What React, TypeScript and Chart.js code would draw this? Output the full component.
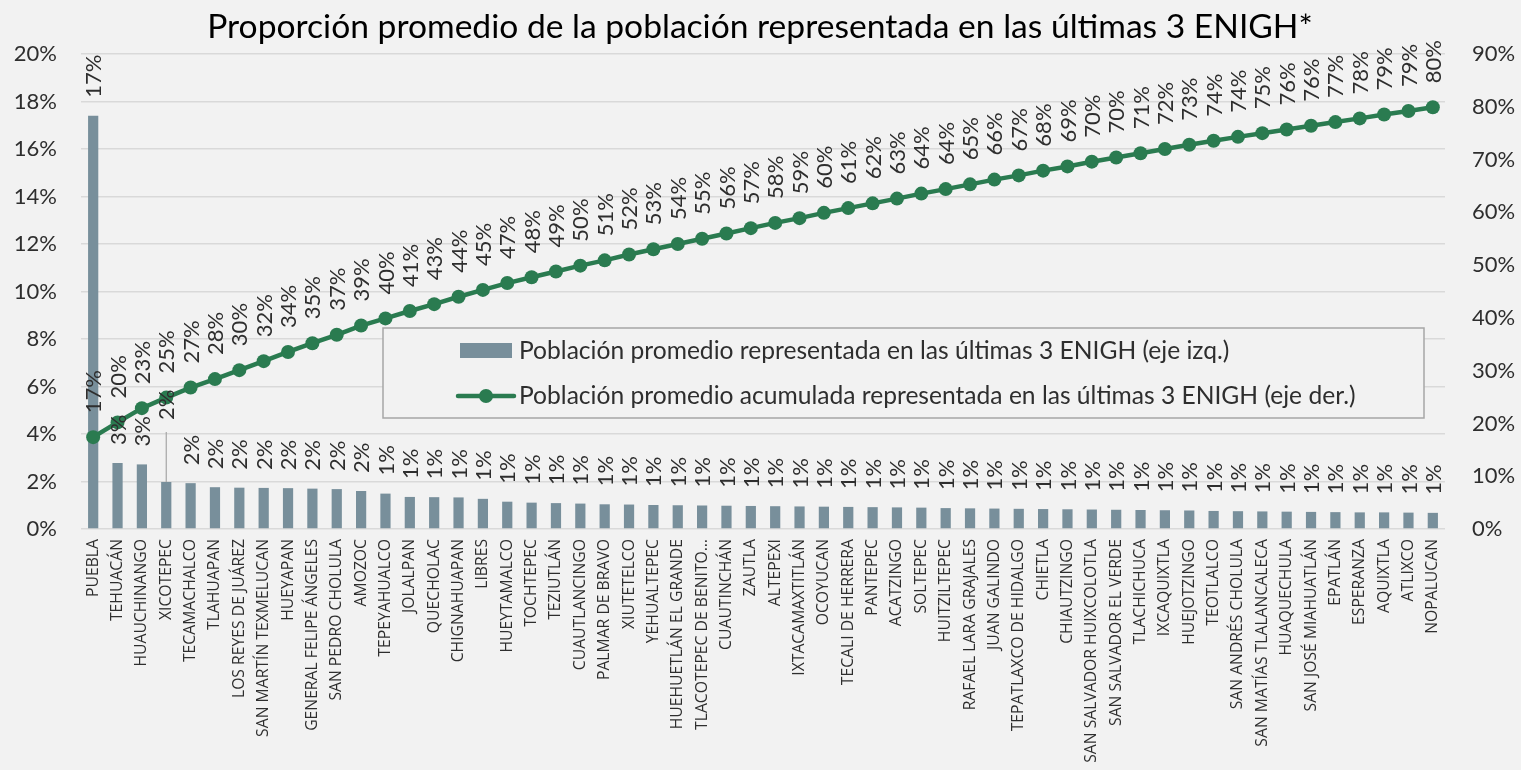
import React, { useEffect, useRef } from "react";
import { Chart, registerables } from "chart.js";

Chart.register(...registerables);

// ---------- DATA ----------
const categories: string[] = [
  "PUEBLA", "TEHUACÁN", "HUAUCHINANGO", "XICOTEPEC", "TECAMACHALCO", "TLAHUAPAN",
  "LOS REYES DE JUÁREZ", "SAN MARTÍN TEXMELUCAN", "HUEYAPAN", "GENERAL FELIPE ÁNGELES",
  "SAN PEDRO CHOLULA", "AMOZOC", "TEPEYAHUALCO", "JOLALPAN", "QUECHOLAC", "CHIGNAHUAPAN",
  "LIBRES", "HUEYTAMALCO", "TOCHTEPEC", "TEZIUTLÁN", "CUAUTLANCINGO", "PALMAR DE BRAVO",
  "XIUTETELCO", "YEHUALTEPEC", "HUEHUETLÁN EL GRANDE", "TLACOTEPEC DE BENITO…", "CUAUTINCHÁN",
  "ZAUTLA", "ALTEPEXI", "IXTACAMAXTITLÁN", "OCOYUCAN", "TECALI DE HERRERA", "PANTEPEC",
  "ACATZINGO", "SOLTEPEC", "HUITZILTEPEC", "RAFAEL LARA GRAJALES", "JUAN GALINDO",
  "TEPATLAXCO DE HIDALGO", "CHIETLA", "CHIAUTZINGO", "SAN SALVADOR HUIXCOLOTLA",
  "SAN SALVADOR EL VERDE", "TLACHICHUCA", "IXCAQUIXTLA", "HUEJOTZINGO", "TEOTLALCO",
  "SAN ANDRÉS CHOLULA", "SAN MATÍAS TLALANCALECA", "HUAQUECHULA", "SAN JOSÉ MIAHUATLÁN",
  "EPATLÁN", "ESPERANZA", "AQUIXTLA", "ATLIXCO", "NOPALUCAN",
];

// Proportion of population per municipality (%), left axis
const shareValues: number[] = [
  17.4, 2.78, 2.72, 1.98, 1.93, 1.76, 1.74, 1.73, 1.72, 1.70,
  1.68, 1.60, 1.49, 1.35, 1.34, 1.33, 1.27, 1.15, 1.11, 1.09,
  1.07, 1.04, 1.03, 1.01, 1.00, 0.99, 0.98, 0.97, 0.96, 0.95,
  0.94, 0.93, 0.92, 0.91, 0.90, 0.88, 0.87, 0.86, 0.85, 0.84,
  0.83, 0.82, 0.81, 0.80, 0.79, 0.78, 0.76, 0.75, 0.74, 0.73,
  0.72, 0.71, 0.70, 0.70, 0.69, 0.68,
];

// Cumulative proportion (%), right axis
const cumulativeValues: number[] = [
  17.4, 20.2, 22.9, 24.9, 26.8, 28.4, 30.1, 31.8, 33.55, 35.2,
  36.8, 38.55, 39.9, 41.3, 42.6, 44.0, 45.3, 46.6, 47.7, 48.8,
  49.9, 50.9, 52.0, 53.0, 54.0, 55.0, 56.0, 57.0, 58.0, 58.9,
  59.9, 60.8, 61.7, 62.6, 63.55, 64.4, 65.3, 66.2, 67.0, 67.9,
  68.7, 69.6, 70.4, 71.2, 72.0, 72.8, 73.55, 74.3, 75.0, 75.7,
  76.4, 77.1, 77.8, 78.55, 79.2, 79.9,
];

const leftAxisMax = 20;
const leftAxisStep = 2;
const rightAxisMax = 90;
const rightAxisStep = 10;

const TITLE = "Proporción promedio de la población representada en las últimas 3 ENIGH*";
const BAR_SERIES = "Población promedio representada en las últimas 3 ENIGH (eje izq.)";
const LINE_SERIES = "Población promedio acumulada representada en las últimas 3 ENIGH (eje der.)";

// ---------- STYLE ----------
const BG = "#F2F2F2";
const BAR_COLOR = "#788F9B";
const GREEN = "#2A7B50";
const TEXT = "#2E2E2E";
const GRID = "#D9D9D9";
const FONT = "Lato, Calibri, Carlito, sans-serif";
const XFONT = "'Open Sans', sans-serif";

function fitFontSize(text: string, family: string, target: number, weight = "normal"): number {
  const c = document.createElement("canvas").getContext("2d")!;
  c.font = `${weight} 20px ${family}`;
  const w = c.measureText(text).width;
  return (20 * target) / w;
}

export default function App() {
  const ref = useRef<HTMLCanvasElement>(null);

  useEffect(() => {
    document.body.style.margin = "0";
    document.body.style.background = BG;
    let chart: Chart | null = null;
    let cancelled = false;

    const build = () => {
      if (cancelled || !ref.current) return;
      const titleSize = fitFontSize(TITLE, FONT, 1106);
      const legendSize = fitFontSize(LINE_SERIES, FONT, 837);
      const xSize = fitFontSize("SAN SALVADOR HUIXCOLOTLA", XFONT, 224);
      const labelSize = 22;

      const decor = {
        id: "decor",
        beforeDraw(c: any) {
          const ctx = c.ctx;
          ctx.save();
          ctx.fillStyle = BG;
          ctx.fillRect(0, 0, c.width, c.height);
          ctx.restore();
        },
        beforeDatasetsDraw(c: any) {
          const ctx = c.ctx as CanvasRenderingContext2D;
          ctx.save();
          // legend box
          const lx = 383, ly = 328, lw = 1041, lh = 90;
          ctx.fillStyle = BG;
          ctx.fillRect(lx, ly, lw, lh);
          ctx.strokeStyle = "#A6A6A6";
          ctx.lineWidth = 1.5;
          ctx.strokeRect(lx, ly, lw, lh);
          // bar swatch
          ctx.fillStyle = BAR_COLOR;
          ctx.fillRect(460, 343, 52, 15);
          // line swatch
          ctx.strokeStyle = GREEN;
          ctx.lineWidth = 4.5;
          ctx.lineCap = "round";
          ctx.beginPath();
          ctx.moveTo(458, 396);
          ctx.lineTo(514, 396);
          ctx.stroke();
          ctx.fillStyle = GREEN;
          ctx.beginPath();
          ctx.arc(486, 396, 7, 0, Math.PI * 2);
          ctx.fill();
          // texts
          ctx.fillStyle = TEXT;
          ctx.font = `${legendSize}px ${FONT}`;
          ctx.textAlign = "left";
          ctx.textBaseline = "middle";
          ctx.fillText(BAR_SERIES, 519, 351);
          ctx.fillText(LINE_SERIES, 519, 396);
          ctx.restore();
        },
        afterDatasetsDraw(c: any) {
          const ctx = c.ctx as CanvasRenderingContext2D;
          ctx.save();
          ctx.fillStyle = TEXT;
          ctx.font = `${labelSize}px ${FONT}`;
          ctx.textAlign = "left";
          ctx.textBaseline = "middle";
          const drawRot = (text: string, x: number, y: number) => {
            ctx.save();
            ctx.translate(x, y);
            ctx.rotate(-Math.PI / 2);
            ctx.fillText(text, 0, 0);
            ctx.restore();
          };
          const barMeta = c.getDatasetMeta(0);
          barMeta.data.forEach((el: any, i: number) => {
            const nudge = i === 3 ? 44 : 0;
            const start = el.y - 18 - nudge;
            drawRot(Math.round(shareValues[i]) + "%", el.x + 1, start);
            if (nudge) {
              ctx.save();
              ctx.strokeStyle = "#A6A6A6";
              ctx.lineWidth = 1.2;
              ctx.beginPath();
              ctx.moveTo(el.x, start + 12);
              ctx.lineTo(el.x, el.y);
              ctx.stroke();
              ctx.restore();
            }
          });
          const lineMeta = c.getDatasetMeta(1);
          lineMeta.data.forEach((el: any, i: number) => {
            drawRot(Math.round(cumulativeValues[i]) + "%", el.x + 1, el.y - 24);
          });
          // title
          ctx.font = `${titleSize}px ${FONT}`;
          ctx.textAlign = "center";
          ctx.textBaseline = "alphabetic";
          ctx.fillStyle = "#000000";
          ctx.fillText(TITLE, 760, 38);
          ctx.restore();
        },
      };

      chart = new Chart(ref.current, {
        data: {
          labels: categories,
          datasets: [
            {
              type: "bar",
              label: BAR_SERIES,
              data: shareValues,
              backgroundColor: BAR_COLOR,
              yAxisID: "y",
              barPercentage: 0.42,
              categoryPercentage: 1,
              order: 2,
            },
            {
              type: "line",
              label: LINE_SERIES,
              data: cumulativeValues,
              borderColor: GREEN,
              backgroundColor: GREEN,
              borderWidth: 4.5,
              pointRadius: 7,
              pointBackgroundColor: GREEN,
              pointBorderWidth: 0,
              tension: 0,
              yAxisID: "y1",
              order: 1,
            },
          ],
        } as any,
        options: {
          responsive: false,
          animation: false,
          events: [],
          layout: { padding: { top: 54, left: 0, right: 0, bottom: 0 } },
          plugins: {
            legend: { display: false },
            tooltip: { enabled: false },
            title: { display: false },
          },
          scales: {
            x: {
              type: "category",
              offset: true,
              grid: { display: false, drawTicks: false },
              border: { display: false },
              ticks: {
                autoSkip: false,
                minRotation: 90,
                maxRotation: 90,
                padding: 10,
                color: TEXT,
                font: { family: XFONT, size: xSize },
              },
              afterFit: (s: any) => {
                s.height = 241;
              },
            },
            y: {
              position: "left",
              min: 0,
              max: leftAxisMax,
              grid: { color: GRID, lineWidth: 1.5, drawTicks: false },
              border: { display: false },
              ticks: {
                stepSize: leftAxisStep,
                padding: 24,
                color: TEXT,
                font: { family: FONT, size: labelSize },
                callback: (v: any) => v + "%",
              },
              afterFit: (s: any) => {
                s.width = 81;
              },
            },
            y1: {
              position: "right",
              min: 0,
              max: rightAxisMax,
              grid: { display: false, drawTicks: false },
              border: { display: false },
              ticks: {
                stepSize: rightAxisStep,
                padding: 27,
                color: TEXT,
                font: { family: FONT, size: labelSize },
                callback: (v: any) => v + "%",
              },
              afterFit: (s: any) => {
                s.width = 76;
              },
            },
          },
        } as any,
        plugins: [decor],
      });
    };

    const fontsReady = (document as any).fonts
      ? Promise.all([
          (document as any).fonts.load(`22px Lato`),
          (document as any).fonts.load(`14px 'Open Sans'`),
        ]).catch(() => null)
      : Promise.resolve(null);
    fontsReady.then(build);

    return () => {
      cancelled = true;
      if (chart) chart.destroy();
    };
  }, []);

  return (
    <div style={{ width: 1521, height: 770, background: BG, overflow: "hidden" }}>
      <canvas ref={ref} width={1521} height={770} style={{ display: "block" }} />
    </div>
  );
}
